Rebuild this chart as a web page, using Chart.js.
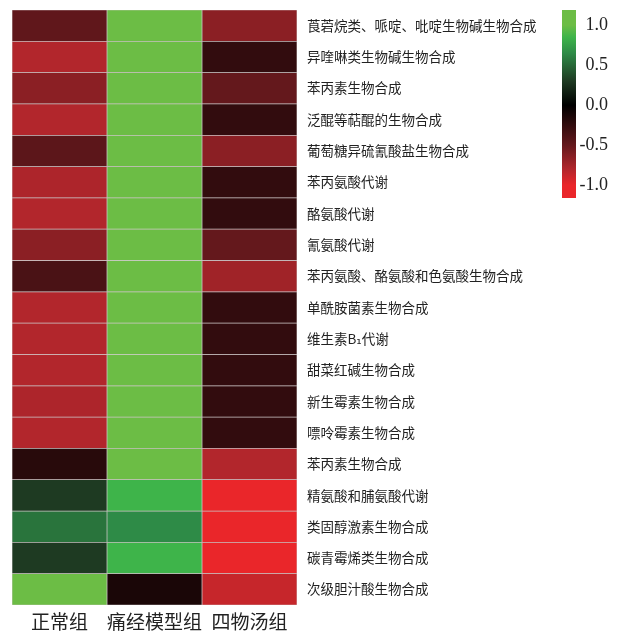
<!DOCTYPE html>
<html>
<head>
<meta charset="utf-8">
<script src="https://cdn.jsdelivr.net/npm/chart.js@4/dist/chart.umd.min.js"></script>
<style>
  html, body { margin: 0; padding: 0; background: #fff; }
  #wrap { position: relative; width: 619px; height: 633px; }
  #heat { position: absolute; left: 0; top: 0; }
  #bar { position: absolute; left: 550px; top: 0; }
</style>
</head>
<body>
<div id="wrap">
  <canvas id="heat" width="619" height="633"></canvas>
  <canvas id="bar" width="69" height="210"></canvas>
</div>
<script>
// ---- Data ----
const pathways = [
  '莨菪烷类、哌啶、吡啶生物碱生物合成',
  '异喹啉类生物碱生物合成',
  '苯丙素生物合成',
  '泛醌等萜醌的生物合成',
  '葡萄糖异硫氰酸盐生物合成',
  '苯丙氨酸代谢',
  '酪氨酸代谢',
  '氰氨酸代谢',
  '苯丙氨酸、酪氨酸和色氨酸生物合成',
  '单酰胺菌素生物合成',
  '维生素B₁代谢',
  '甜菜红碱生物合成',
  '新生霉素生物合成',
  '嘌呤霉素生物合成',
  '苯丙素生物合成',
  '精氨酸和脯氨酸代谢',
  '类固醇激素生物合成',
  '碳青霉烯类生物合成',
  '次级胆汁酸生物合成',
];
const groups = ['正常组', '痛经模型组', '四物汤组'];

const normalGroup = [-0.48, -0.8, -0.65, -0.8, -0.46, -0.78, -0.8, -0.65, -0.37, -0.8,
                     -0.8, -0.8, -0.78, -0.8, -0.2, 0.3, 0.55, 0.3, 1.0];
const modelGroup  = [1, 1, 1, 1, 1, 1, 1, 1, 1, 1,
                     1, 1, 1, 1, 1, 0.85, 0.65, 0.85, -0.13];
const siwuGroup   = [-0.65, -0.25, -0.5, -0.25, -0.65, -0.25, -0.25, -0.5, -0.73, -0.25,
                     -0.25, -0.25, -0.25, -0.25, -0.8, -1.0, -1.0, -1.0, -0.87];

const scaleTicks = [-1, -0.5, 0, 0.5, 1];
const scaleMin = -1.16;
const scaleMax = 1.19;

// ---- Colour scale: red - black - green ----
const colorStops = [
  { v: -1.0, c: [234, 38, 42] },
  { v: -0.8, c: [178, 38, 44] },
  { v: -0.5, c: [100, 24, 28] },
  { v:  0.0, c: [0, 0, 0] },
  { v:  0.3, c: [30, 58, 34] },
  { v: 0.65, c: [46, 139, 71] },
  { v: 0.85, c: [62, 180, 74] },
  { v:  1.0, c: [108, 189, 69] },
];

function colorFor(v) {
  if (v <= colorStops[0].v) return rgb(colorStops[0].c);
  for (let i = 1; i < colorStops.length; i++) {
    const a = colorStops[i - 1], b = colorStops[i];
    if (v <= b.v) {
      const t = (v - a.v) / (b.v - a.v);
      return rgb(a.c.map((x, k) => x + (b.c[k] - x) * t));
    }
  }
  return rgb(colorStops[colorStops.length - 1].c);
}
function rgb(c) {
  return `rgb(${c.map(Math.round).join(',')})`;
}

// labels shouldn't push the plot area around
function noEdgePadding(s) {
  s.paddingTop = 0;
  s.paddingBottom = 0;
  s.paddingLeft = 0;
  s.paddingRight = 0;
}

const CJK = '"Noto Sans CJK SC", "DejaVu Sans", sans-serif';

// ---- Heatmap (stacked horizontal bars, one dataset per group) ----
const columns = [normalGroup, modelGroup, siwuGroup];

new Chart(document.getElementById('heat'), {
  type: 'bar',
  data: {
    labels: pathways,
    datasets: columns.map((vals, i) => ({
      label: groups[i],
      data: vals.map(() => 1),
      backgroundColor: vals.map(colorFor),
      borderColor: 'rgba(185,175,175,0.65)',
      borderWidth: 0.7,
      borderSkipped: false,
      barPercentage: 1,
      categoryPercentage: 1,
    })),
  },
  options: {
    indexAxis: 'y',
    responsive: false,
    animation: false,
    layout: { padding: { left: 12, top: 10, right: 0, bottom: 0 } },
    plugins: { legend: { display: false }, tooltip: { enabled: false } },
    scales: {
      x: {
        stacked: true,
        min: 0,
        max: 3,
        display: false,
      },
      cols: {
        type: 'category',
        axis: 'x',
        labels: groups,
        position: 'bottom',
        offset: true,
        grid: { display: false, drawTicks: false },
        border: { display: false },
        ticks: {
          color: '#222',
          font: { family: CJK, size: 19 },
          padding: 5,
          maxRotation: 0,
          autoSkip: false,
        },
        afterFit: (s) => { s.height = 28; noEdgePadding(s); },
      },
      y: {
        stacked: true,
        position: 'right',
        grid: { display: false, drawTicks: false },
        border: { display: false },
        ticks: {
          color: '#222',
          font: { family: CJK, size: 13.5 },
          padding: 10,
          autoSkip: false,
        },
        afterFit: (s) => { s.width = 322; noEdgePadding(s); },
      },
    },
  },
});

// ---- Colour bar ----
function barGradient(ctx) {
  const chart = ctx.chart;
  const area = chart.chartArea;
  if (!area) return '#000';
  const ys = chart.scales.y;
  const top = ys.getPixelForValue(scaleMax);
  const bottom = ys.getPixelForValue(scaleMin);
  const g = chart.ctx.createLinearGradient(0, top, 0, bottom);
  const span = bottom - top;
  g.addColorStop(0, colorFor(scaleMax));
  colorStops.slice().reverse().forEach(s => {
    const off = (ys.getPixelForValue(s.v) - top) / span;
    g.addColorStop(Math.min(1, Math.max(0, off)), rgb(s.c));
  });
  g.addColorStop(1, colorFor(scaleMin));
  return g;
}

new Chart(document.getElementById('bar'), {
  type: 'bar',
  data: {
    labels: [''],
    datasets: [{
      data: [[scaleMin, scaleMax]],
      backgroundColor: barGradient,
      borderWidth: 0,
      barPercentage: 1,
      categoryPercentage: 1,
    }],
  },
  options: {
    responsive: false,
    animation: false,
    layout: { padding: { left: 12, top: 10, right: 11, bottom: 12 } },
    plugins: { legend: { display: false }, tooltip: { enabled: false } },
    scales: {
      x: { display: false },
      y: {
        position: 'right',
        min: scaleMin,
        max: scaleMax,
        grid: { display: false, drawTicks: false },
        border: { display: false },
        afterBuildTicks: (s) => { s.ticks = scaleTicks.map(v => ({ value: v })); },
        afterFit: (s) => { s.width = 32; noEdgePadding(s); },
        ticks: {
          color: '#222',
          crossAlign: 'far',
          padding: 4,
          font: { family: '"Liberation Serif", "DejaVu Serif", serif', size: 18, lineHeight: 1 },
          callback: (v) => Number(v).toFixed(1),
        },
      },
    },
  },
});
</script>
</body>
</html>
